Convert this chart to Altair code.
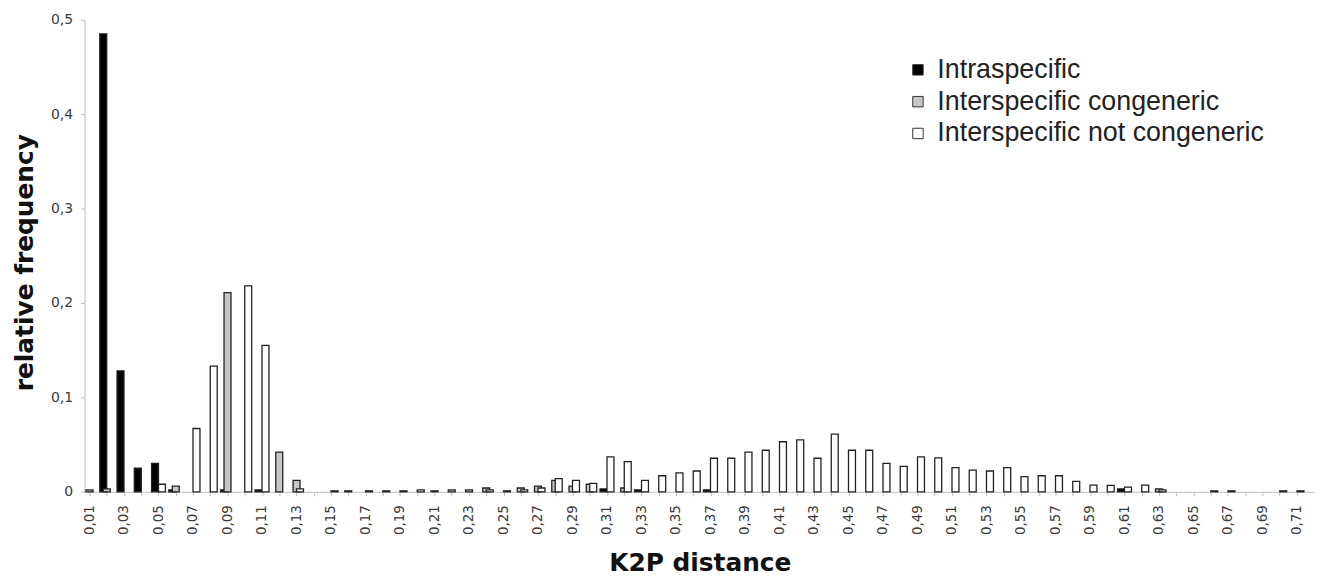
import altair as alt
import pandas as pd

# K2P distance classes (x categories)
dist = [round(0.01 * i, 2) for i in range(1, 72)]

series_names = ["Intraspecific", "Interspecific congeneric", "Interspecific not congeneric"]

# relative frequency, one value per distance class (0,01 ... 0,71)
intra = [
    0, 0.485, 0.128, 0.025, 0.030, 0.002, 0, 0, 0.002, 0,
    0.002, 0, 0, 0, 0, 0, 0, 0, 0, 0,
    0, 0, 0, 0, 0, 0, 0, 0, 0, 0,
    0.003, 0, 0.002, 0, 0, 0, 0.002, 0, 0, 0,
    0, 0, 0, 0, 0, 0, 0, 0, 0, 0,
    0, 0, 0, 0, 0, 0, 0, 0, 0, 0,
    0.003, 0, 0, 0, 0, 0, 0, 0, 0, 0,
    0,
]
congeneric = [
    0.002, 0.003, 0, 0, 0, 0.006, 0, 0, 0.211, 0,
    0, 0.042, 0.012, 0, 0, 0.001, 0, 0, 0, 0,
    0.001, 0.002, 0.002, 0.004, 0, 0.004, 0.006, 0.012, 0.006, 0.008,
    0, 0.004, 0, 0, 0, 0, 0, 0, 0, 0,
    0, 0, 0, 0, 0, 0, 0, 0, 0, 0,
    0, 0, 0, 0, 0, 0, 0, 0, 0, 0,
    0, 0, 0.003, 0, 0, 0, 0, 0, 0, 0,
    0,
]
not_congeneric = [
    0, 0, 0, 0, 0.008, 0, 0.067, 0.133, 0, 0.218,
    0.155, 0, 0.003, 0, 0.001, 0, 0.001, 0.001, 0.001, 0.002,
    0, 0, 0, 0.002, 0.001, 0.002, 0.004, 0.014, 0.012, 0.009,
    0.037, 0.032, 0.012, 0.017, 0.020, 0.022, 0.0355, 0.0355, 0.042, 0.044,
    0.053, 0.055, 0.0355, 0.061, 0.044, 0.044, 0.030, 0.027, 0.037, 0.036,
    0.0255, 0.023, 0.022, 0.0255, 0.016, 0.017, 0.017, 0.011, 0.007, 0.0067,
    0.005, 0.007, 0.002, 0, 0, 0.001, 0.001, 0, 0, 0.001,
    0.001,
]

fills = ["#000000", "#c6c6c6", "#ffffff"]
offsets = [-3.5, 0, 3.5]

rows = []
for name, vals in zip(series_names, [intra, congeneric, not_congeneric]):
    for d, v in zip(dist, vals):
        if v > 0:
            rows.append({"dist": d, "freq": v, "series": name})
df = pd.DataFrame(rows)

x = alt.X(
    "dist:Q",
    scale=alt.Scale(domain=[0.01, 0.717], nice=False, zero=False),
    axis=alt.Axis(
        values=dist,
        labelExpr="round(datum.value*100) % 2 == 1 ? replace(format(datum.value, '.2f'), '.', ',') : ''",
        labelAngle=270,
        labelAlign="right",
        labelBaseline="middle",
        labelPadding=9,
        labelFont="DejaVu Sans",
        labelFontSize=13.5,
        labelColor="#3a3a3a",
        labelOverlap=False,
        labelBound=False,
        labelFlush=False,
        grid=False,
        domainColor="#bdbdbd",
        tickColor="#bdbdbd",
        tickSize=4,
        title="K2P distance",
        titleFont="DejaVu Sans",
        titleFontSize=25,
        titleFontWeight="bold",
        titleColor="#111111",
        titleX=619,
        titleY=79,
        titleBaseline="alphabetic",
        titleAlign="center",
    ),
)

y = alt.Y(
    "freq:Q",
    scale=alt.Scale(domain=[0, 0.5], nice=False),
    axis=alt.Axis(
        values=[0, 0.1, 0.2, 0.3, 0.4, 0.5],
        labelExpr="datum.value == 0 ? '0' : replace(format(datum.value, '.1f'), '.', ',')",
        labelFont="DejaVu Sans",
        labelFontSize=14,
        labelColor="#3a3a3a",
        labelPadding=8,
        grid=False,
        domainColor="#bdbdbd",
        tickColor="#bdbdbd",
        tickSize=4,
        title="relative frequency",
        titleFont="DejaVu Sans",
        titleFontSize=25,
        titleFontWeight="bold",
        titleColor="#111111",
        titleAngle=270,
        titleX=-52,
        titleY=244,
        titleBaseline="alphabetic",
        titleAlign="center",
    ),
)

color = alt.Color(
    "series:N",
    scale=alt.Scale(domain=series_names, range=fills),
    legend=alt.Legend(
        title=None,
        orient="none",
        legendX=825,
        legendY=37,
        padding=0,
        symbolType="square",
        symbolSize=110,
        symbolStrokeColor="#333333",
        symbolStrokeWidth=1,
        symbolOpacity=1,
        labelFont="Liberation Sans",
        labelFontSize=27,
        labelColor="#222222",
        labelOffset=6,
        rowPadding=4,
        labelLimit=500,
    ),
)

layers = []
for i, name in enumerate(series_names):
    layers.append(
        alt.Chart(df)
        .transform_filter(alt.datum.series == name)
        .mark_bar(width=7, xOffset=offsets[i], stroke="#222222", strokeWidth=1.3, opacity=1)
        .encode(x=x, y=y, color=color)
    )

chart = (
    alt.layer(*layers)
    .properties(
        width=1237,
        height=475,
        padding={"left": 77, "top": 10, "right": 6, "bottom": 84},
        autosize=alt.AutoSizeParams(type="none"),
        background="white",
    )
    .configure_view(stroke=None)
)

chart.save("out.html", embed_options={"renderer": "svg", "actions": False})
